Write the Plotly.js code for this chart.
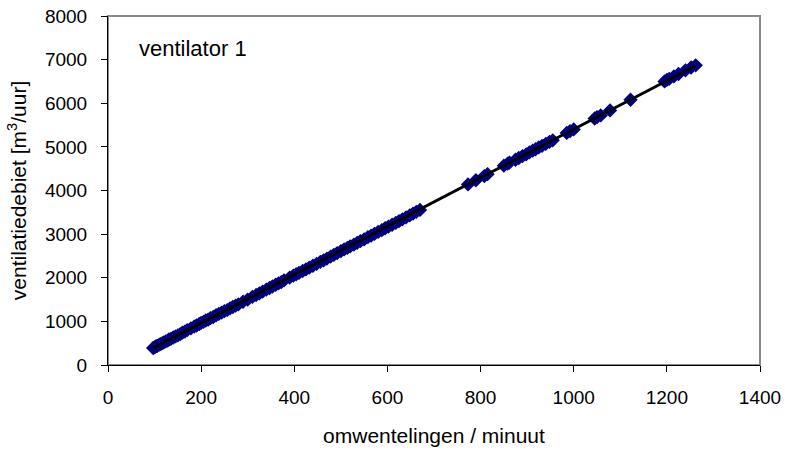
<!DOCTYPE html>
<html>
<head>
<meta charset="utf-8">
<script src="https://cdn.plot.ly/plotly-3.0.1.min.js"></script>
<style>html,body{margin:0;padding:0;background:#fff;}#chart{width:785px;height:452px;}</style>
</head>
<body>
<div id="chart"></div>
<script>
const rpm = [97,100,103,106,110,113,117,120,124,128,131,135,140,145,150,155,160,165,170,178,185,190,196,200,205,210,215,220,226,232,238,244,250,256,262,268,274,280,290,300,310,318,325,332,340,347,353,360,366,372,378,390,398,404,410,418,425,432,440,448,456,463,470,478,485,492,500,507,514,520,528,535,542,550,558,565,572,580,588,595,602,610,618,625,632,640,648,655,662,670,
773,790,808,815,850,858,862,875,882,890,898,905,912,918,925,932,940,948,955,985,992,1000,1045,1050,1058,1078,1122,1195,1200,1205,1215,1225,1240,1252,1262];
const flow = [390,405,430,440,465,480,500,520,540,560,585,600,630,655,680,710,740,765,800,840,880,905,940,965,990,1020,1040,1075,1100,1140,1170,1200,1235,1260,1300,1330,1360,1390,1450,1500,1560,1605,1640,1680,1730,1765,1800,1840,1870,1900,1940,2005,2050,2080,2110,2155,2190,2230,2275,2320,2365,2400,2440,2485,2525,2565,2610,2650,2685,2720,2760,2800,2840,2880,2930,2965,3005,3050,3090,3135,3170,3215,3260,3300,3340,3385,3430,3470,3510,3555,
4140,4235,4330,4375,4570,4615,4640,4705,4745,4790,4830,4875,4915,4945,4990,5025,5070,5115,5150,5320,5360,5400,5650,5680,5720,5835,6080,6500,6535,6560,6615,6670,6755,6820,6870];
const trendRpm = [97, 400, 700, 1000, 1262];
const trendFlow = [390, 2070, 3735, 5400, 6860];
const xTicks = [0,200,400,600,800,1000,1200,1400];
const yTicks = [0,1000,2000,3000,4000,5000,6000,7000,8000];

const fam = 'Liberation Sans, Arial, sans-serif';
const tickFont = {family: fam, size: 19, color: '#000'};
const titleFont = {family: fam, size: 21, color: '#000'};
const data = [
  {x: rpm, y: flow, type: 'scatter', mode: 'markers',
   marker: {symbol: 'diamond', size: 11, color: '#000080', line: {width: 0}}},
  {x: trendRpm, y: trendFlow, type: 'scatter', mode: 'lines',
   line: {color: '#000', width: 3}}
];
const layout = {
  width: 785, height: 452,
  margin: {l: 108, r: 25, t: 16, b: 87},
  paper_bgcolor: '#fff', plot_bgcolor: '#fff',
  showlegend: false,
  font: tickFont,
  xaxis: {range: [0, 1400], tickvals: xTicks, ticktext: xTicks.map(String),
    ticks: 'outside', ticklen: 6, tickcolor: '#000', showline: true, linecolor: '#000', linewidth: 1,
    showgrid: false, zeroline: false, tickfont: tickFont, ticklabelstandoff: 9,
    title: {text: 'omwentelingen / minuut', font: titleFont, standoff: 21}},
  yaxis: {range: [0, 8000], tickvals: yTicks, ticktext: yTicks.map(String),
    ticks: 'outside', ticklen: 6, tickcolor: '#000', showline: true, linecolor: '#000', linewidth: 1,
    showgrid: false, zeroline: false, tickfont: tickFont, ticklabelstandoff: 10,
    title: {text: 'ventilatiedebiet [m<sup>3</sup>/uur]', font: titleFont, standoff: 12}},
  shapes: [{type: 'rect', xref: 'paper', yref: 'paper', x0: 0, x1: 1, y0: 0, y1: 1,
    line: {color: '#8a8a8a', width: 2}, layer: 'below'}],
  annotations: [{text: 'ventilator 1', xref: 'paper', yref: 'paper', x: 0.044, y: 0.908,
    xanchor: 'left', yanchor: 'middle', showarrow: false, font: {family: fam, size: 22, color: '#000'}}]
};
Plotly.newPlot('chart', data, layout, {displayModeBar: false, staticPlot: true});
</script>
</body>
</html>
